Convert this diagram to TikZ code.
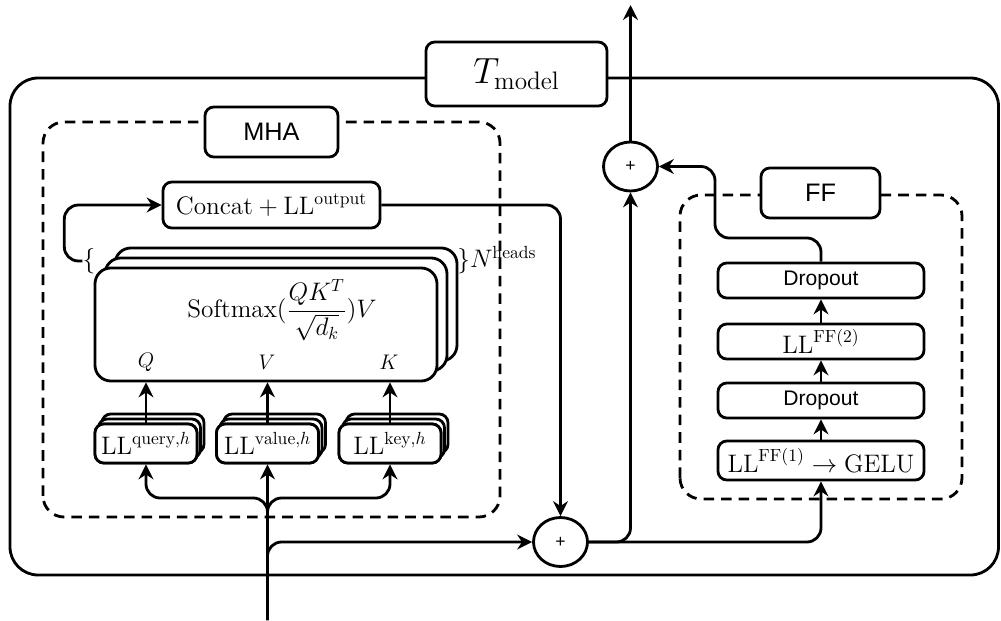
\documentclass[tikz,border=0pt]{standalone}
\usepackage{fontspec}
\newfontfamily\helv{Liberation Sans}
\usepackage{tikz}
\usetikzlibrary{arrows.meta,positioning,shapes.geometric,calc}
\tikzset{
  blk/.style={draw, line width=1.6pt, rounded corners=5pt, fill=white, align=center, inner sep=2pt},
  lblbox/.style={blk, font=\helv\Large},
  ffbox/.style={blk, minimum width=4.12cm, minimum height=0.7cm},
  llbox/.style={blk, minimum width=2.04cm, minimum height=0.78cm, font=\Large},
  smaxbox/.style={blk, rounded corners=9pt, minimum width=6.84cm, minimum height=2.26cm},
  dashbox/.style={draw, line width=1.6pt, dash pattern=on 6pt off 4pt, rounded corners=12pt},
  sumnode/.style={draw, ellipse, line width=1.6pt, fill=white, minimum width=1.08cm, minimum height=0.98cm, inner sep=0pt, font=\helv},
  conn/.style={line width=1.6pt, -{Stealth[length=8.5pt,width=8.5pt]}, rounded corners=8pt},
  wire/.style={line width=1.6pt, rounded corners=8pt}
}
\begin{document}
\begin{tikzpicture}
  \useasboundingbox (0,0) rectangle (20.02,12.4);

  %--- Transformer layer ---
  \draw[line width=1.6pt, rounded corners=16pt] (0.2,0.9) rectangle (19.97,10.84);
  \node[lblbox, font=\huge, minimum width=3.62cm, minimum height=1.28cm] (tmodel) at (10.33,10.92) {$T_{\mathrm{model}}$};

  %--- Multi-head attention ---
  \draw[dashbox] (0.86,2.06) rectangle (10.0,9.96);
  \node[lblbox, minimum width=2.66cm, minimum height=1.0cm] (mha) at (5.43,9.76) {MHA};
  \node[blk, font=\Large, minimum width=4.34cm, minimum height=0.92cm] (concat) at (5.43,8.3) {$\mathrm{Concat}+\mathrm{LL}^{\mathrm{output}}$};

  \node[smaxbox] (smax3) at (5.72,6.31) {};
  \node[smaxbox] (smax2) at (5.52,6.11) {};
  \node[smaxbox] (smax) at (5.32,5.91) {};
  \node[font=\Large] (smaxtxt) at (5.64,6.2) {$\displaystyle\mathrm{Softmax}(\frac{QK^T}{\sqrt{d_k}})V$};
  \node[inner sep=0pt, font=\Large] (lbrace) at (1.78,7.18) {$\{$};
  \node[inner sep=0pt, anchor=west, font=\Large] (nheads) at (9.14,7.2) {$\}N^{\mathrm{heads}}$};

  \foreach \dx/\dy in {0.14/0.2, 0.07/0.1, 0/0} {
    \node[llbox] at ($(2.92,3.53)+(\dx,\dy)$) {};
    \node[llbox] at ($(5.35,3.53)+(\dx,\dy)$) {};
    \node[llbox] at ($(7.8,3.53)+(\dx,\dy)$) {};
  }
  \node[llbox] (qll) at (2.92,3.53) {$\mathrm{LL}^{\mathrm{query},h}$};
  \node[llbox] (vll) at (5.35,3.53) {$\mathrm{LL}^{\mathrm{value},h}$};
  \node[llbox] (kll) at (7.8,3.53) {$\mathrm{LL}^{\mathrm{key},h}$};

  \node[font=\large] (qlbl) at (2.92,5.16) {$Q$};
  \node[font=\large] (vlbl) at (5.34,5.16) {$V$};
  \node[font=\large] (klbl) at (7.78,5.16) {$K$};

  \draw[conn] (qll.north) -- (qll.north |- smax.south);
  \draw[conn] (vll.north) -- (vll.north |- smax.south);
  \draw[conn] (kll.north) -- (kll.north |- smax.south);
  \draw[conn] (lbrace.west) -- ++(-0.36,0) |- (concat.west);

  %--- Residual sums ---
  \node[sumnode] (plus2) at (11.21,1.56) {+};
  \node[sumnode] (plus1) at (12.61,9.07) {+};
  \coordinate (in) at (5.35,0);
  \coordinate (split) at (5.35,2.44);
  \coordinate (out) at (12.61,12.3);

  \draw[conn] (in) -- (vll.south);
  \draw[conn] (in) -- (split) -| (qll.south);
  \draw[conn] (in) -- (split) -| (kll.south);
  \draw[conn] (in) |- (plus2.west);
  \draw[conn] (concat.east) -| (plus2.north);
  \draw[conn] (plus2.east) -| (plus1.south);
  \draw[conn] (plus1.north) -- (out);

  %--- Feed-forward ---
  \draw[dashbox] (13.6,2.42) rectangle (19.24,8.5);
  \node[lblbox, minimum width=2.38cm, minimum height=1.0cm] (ff) at (16.41,8.54) {FF};
  \node[ffbox, font=\helv\large] (drop2) at (16.42,6.79) {Dropout};
  \node[ffbox, font=\Large] (ff2) at (16.42,5.57) {$\mathrm{LL}^{\mathrm{FF}(2)}$};
  \node[ffbox, font=\helv\large] (drop1) at (16.42,4.39) {Dropout};
  \node[ffbox, font=\Large, minimum height=0.78cm] (ff1) at (16.42,3.19) {$\mathrm{LL}^{\mathrm{FF}(1)}\rightarrow\mathrm{GELU}$};

  \draw[conn] (ff1.north) -- (drop1.south);
  \draw[conn] (drop1.north) -- (ff2.south);
  \draw[conn] (ff2.north) -- (drop2.south);
  \draw[conn] (plus2.east) -| (ff1.south);
  \draw[conn] (drop2.north) |- (14.3,7.64) |- (plus1.east);
\end{tikzpicture}
\end{document}
